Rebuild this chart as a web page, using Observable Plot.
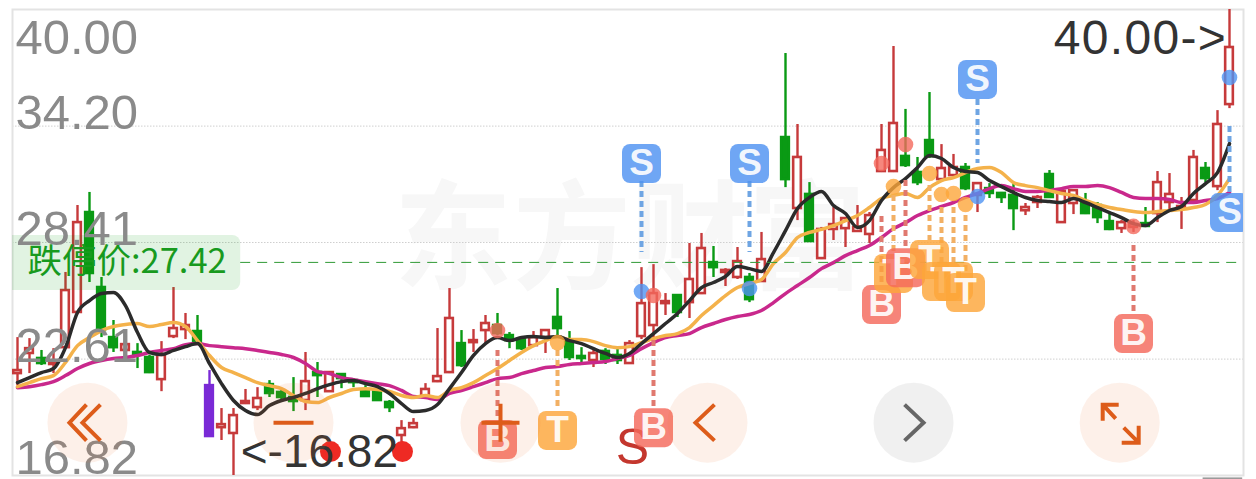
<!DOCTYPE html>
<html>
<head>
<meta charset="utf-8">
<script src="https://cdn.jsdelivr.net/npm/d3@7"></script>
<script src="https://cdn.jsdelivr.net/npm/@observablehq/plot@0.6"></script>
<style>
html,body{margin:0;padding:0;background:#fff;overflow:hidden}
svg{display:block}
.hi-label text{letter-spacing:1.3px}
</style>
</head>
<body>
<div id="chart"></div>
<script>
// Daily candles
const open = [21.89,22.89,22.64,22.34,23.18,24.93,29.90,26.17,23.68,23.04,
22.94,22.69,21.59,23.73,24.08,23.98,21.29,19.20,18.91,20.40,
20.20,21.34,20.95,20.70,20.55,21.94,20.99,21.84,21.54,21.05,
20.99,20.45,18.81,19.20,20.75,21.49,21.94,23.38,23.43,24.03,
24.28,23.78,23.58,23.28,23.68,24.68,23.43,22.74,22.54,22.99,
22.79,22.39,23.73,24.28,25.37,25.77,25.42,25.87,27.41,26.92,
26.67,26.67,26.47,33.08,33.63,30.10,30.80,27.61,29.06,29.10,
28.96,28.81,31.94,31.94,32.69,31.89,33.48,31.54,31.74,32.14,
30.75,31.09,30.85,30.75,29.99,30.40,31.79,29.40,30.35,30.40,
30.25,29.45,29.10,29.16,29.35,29.85,30.40,30.10,30.50,32.09,
31.19,35.27];
const close = [22.04,23.13,22.39,22.44,26.02,29.40,26.87,24.03,23.18,23.33,
22.84,21.94,22.79,24.13,24.28,23.43,18.76,19.35,19.80,20.50,
20.65,20.90,20.70,20.50,21.49,21.79,21.94,21.64,21.44,20.75,
20.55,20.20,19.15,19.40,21.10,21.74,24.63,22.29,23.53,24.38,
23.88,23.53,23.13,23.68,24.03,24.13,22.69,22.64,22.89,22.59,
22.54,23.38,25.37,25.87,25.47,24.93,26.57,28.11,27.16,27.02,
27.46,25.57,27.56,33.08,31.54,32.64,28.46,29.06,29.30,29.60,
29.16,29.75,32.99,34.33,32.24,31.39,32.69,32.09,32.14,31.09,
31.34,30.85,30.65,30.10,30.15,30.65,30.65,30.95,30.99,29.85,
29.65,29.06,29.40,29.30,29.21,31.39,30.80,30.20,32.64,31.59,
34.28,38.11];
const high = [23.68,23.63,23.04,23.13,26.92,30.25,30.90,26.67,24.53,23.78,
23.38,22.79,23.48,26.17,24.88,24.78,22.04,20.15,20.15,21.10,
21.19,21.54,21.05,21.69,22.94,22.44,21.99,21.89,21.64,21.29,
21.29,20.55,19.55,19.65,21.39,24.13,26.12,24.03,24.08,24.78,
24.88,23.93,23.63,23.98,24.03,26.12,23.98,23.18,23.13,23.13,
23.09,23.53,27.16,27.31,25.87,25.77,28.36,28.86,28.21,27.11,
28.16,26.87,28.91,33.08,37.81,34.28,31.39,29.16,30.15,29.65,
30.25,29.90,34.28,38.16,35.03,32.64,35.87,33.28,32.79,32.34,
31.34,31.34,30.90,31.34,30.35,30.75,31.99,30.99,31.04,30.85,
30.40,29.85,29.50,29.50,30.15,31.94,31.84,30.65,32.99,32.39,
34.97,40.00];
const low = [21.29,21.89,22.29,21.89,23.13,24.88,26.42,23.68,22.94,22.94,
22.14,21.89,20.99,23.63,23.58,23.38,18.76,18.56,16.82,20.35,
20.05,20.70,20.45,20.00,20.05,20.70,20.95,21.14,21.19,20.70,
20.50,19.95,18.41,19.15,20.70,21.44,21.89,22.19,22.94,23.38,
23.78,23.13,23.04,23.18,22.89,23.68,22.54,22.44,22.19,22.34,
22.34,22.34,23.58,23.53,24.78,24.68,24.63,25.82,26.67,26.22,
26.57,25.42,26.42,33.08,31.14,29.50,28.41,27.56,28.51,28.16,
28.91,28.36,31.89,31.89,32.14,31.24,32.59,31.49,31.69,30.99,
29.90,30.60,30.35,29.00,29.75,30.10,30.65,29.40,29.80,29.80,
29.35,29.00,28.86,28.91,29.16,29.40,29.99,29.06,30.40,31.39,
30.99,35.07];
const purpleDays = [16];
const yellowDays = [63];

// Moving averages
const maBlack = [21.44,21.69,21.94,22.14,23.18,24.93,25.52,25.87,25.92,25.27,
23.93,22.94,22.84,23.04,23.23,23.38,22.39,21.39,20.55,20.05,
19.85,20.30,20.55,20.70,20.90,21.14,21.34,21.49,21.54,21.39,
21.24,20.90,20.40,20.00,20.05,20.35,21.14,21.94,22.79,23.38,
23.68,23.53,23.68,23.73,23.68,23.73,23.53,23.38,23.13,22.89,
22.69,22.89,23.38,23.88,24.38,24.88,25.52,26.17,26.42,26.72,
27.21,27.11,26.97,27.91,29.00,30.10,30.65,30.95,30.25,29.85,
29.16,29.50,30.50,31.14,31.59,32.14,32.74,32.59,32.14,31.94,
31.89,31.49,31.19,30.90,30.65,30.50,30.45,30.40,30.60,30.40,
30.15,29.90,29.65,29.35,29.25,29.65,30.00,30.20,30.85,31.34,
31.89,33.33];
const maYellow = [21.24,21.44,21.64,21.79,22.44,23.28,23.68,24.03,24.23,24.33,
24.38,24.23,24.33,24.43,24.23,23.53,22.79,22.19,21.94,21.69,
21.44,21.29,21.14,20.80,20.50,20.45,20.70,20.90,21.10,21.14,
21.10,21.00,20.80,20.70,20.80,20.70,21.05,21.19,21.44,21.79,
22.14,22.54,22.94,23.28,23.53,23.73,23.58,23.58,23.48,23.28,
23.18,23.23,23.43,23.63,23.78,23.88,24.18,24.78,25.27,25.77,
26.17,26.37,26.57,27.36,27.91,28.66,28.91,29.06,29.25,29.50,
29.75,30.15,30.60,30.75,30.85,30.65,31.14,31.49,31.64,31.89,
32.09,32.14,31.89,31.39,31.24,31.14,30.99,30.85,30.75,30.50,
30.30,30.15,30.05,29.95,29.90,29.95,30.00,30.05,30.15,30.30,
30.75,31.59];
const maMagenta = [21.19,21.24,21.34,21.49,21.79,22.14,22.39,22.54,22.64,22.69,
22.79,22.94,23.04,23.13,23.33,23.38,23.28,23.23,23.18,23.13,
23.04,22.94,22.84,22.69,22.39,21.99,21.89,21.69,21.59,21.49,
21.39,21.29,21.05,20.75,20.70,20.60,20.90,21.05,21.24,21.44,
21.64,21.69,21.89,22.04,22.19,22.24,22.34,22.39,22.44,22.49,
22.64,22.79,23.13,23.43,23.68,23.78,23.88,24.18,24.38,24.58,
24.73,24.83,25.03,25.42,25.87,26.27,26.67,27.11,27.41,27.76,
28.01,28.26,28.66,29.10,29.40,29.75,30.00,30.20,30.40,30.65,
30.85,31.09,31.24,31.09,30.95,30.95,30.99,31.09,31.19,31.19,
31.24,31.14,30.90,30.65,30.60,30.60,30.55,30.40,30.40,30.50,
30.60,30.90];

// Buy / sell / T signals
const sigDay   = [40,45,52,53,61,72,73,74,76,77,78,79,80,93,101];
const sigKind  = ["B","T","S","B","S","B","T","B","T","T","T","T","S","B","S"];
const sigDot   = [24.03,23.43,25.97,25.77,26.12,32.34,31.19,33.28,31.84,30.80,30.85,30.30,30.70,29.21,36.62];
const sigBadge = [18.61,19.06,32.34,19.20,32.34,25.32,26.87,27.16,27.56,26.47,26.47,25.92,36.52,23.88,29.90];
const sigFrom  = [23.04,23.04,31.44,23.53,31.44,29.70,30.75,31.49,31.24,30.15,30.15,29.75,35.52,28.26,30.90];
const sigTo    = [19.70,20.05,27.91,20.20,27.91,26.27,27.86,28.11,28.51,27.41,27.41,26.92,32.34,24.88,34.33];

// Axis labels and price levels
const topTick = ["40.00"];
const midTicks = ["34.20","28.41","22.61"];
const bottomTick = ["16.82"];
const gridLevels = [34.20,28.41,22.61];
const limitPrice = 27.42;
const limitLabel = "跌停价:27.42";
const highLabel = "40.00->";
const lowLabel = "<-16.82";
const watermark = ["东","方","财","富"];
const watermarkDays = [36.3,46.2,56,65.8];

const RED = "#c63a3b", GREEN = "#0a9a14", PURPLE = "#7a2ad6", YEL = "#f4b24b";
const ORANGE = "#dd5c1a";
const kindColor = {B:"#f4695c", T:"#fda63b", S:"#4f93f2"};
const dashColor = {B:"#e0796f", T:"#f2b064", S:"#6fa5e3"};

const days = d3.range(open.length);
const candleColor = i => purpleDays.includes(i) ? PURPLE : yellowDays.includes(i) ? YEL : close[i] >= open[i] ? RED : GREEN;
const isHollow = i => close[i] >= open[i] && !yellowDays.includes(i);
const signals = sigDay.map((d,k)=>({day:d,kind:sigKind[k],dot:sigDot[k],badge:sigBadge[k],from:sigFrom[k],to:sigTo[k]}));

// Symbols for badges and UI buttons (shape only, placed through the scales)
const poly = (ctx, pts) => { pts.forEach((p,i)=> i ? ctx.lineTo(p[0],p[1]) : ctx.moveTo(p[0],p[1])); };
const roundSquare = {draw(ctx){
  const h=19.5,r=8;
  ctx.moveTo(-h+r,-h); ctx.lineTo(h-r,-h); ctx.arcTo(h,-h,h,-h+r,r); ctx.lineTo(h,h-r); ctx.arcTo(h,h,h-r,h,r);
  ctx.lineTo(-h+r,h); ctx.arcTo(-h,h,-h,h-r,r); ctx.lineTo(-h,-h+r); ctx.arcTo(-h,-h,-h+r,-h,r); ctx.closePath();
}};
const iconDouble = {draw(c){poly(c,[[-1,-18],[-18,0],[-1,18]]);poly(c,[[13,-18],[-5,0],[13,18]]);}};
const iconMinus = {draw(c){poly(c,[[-20,0],[20,0]]);}};
const iconPlus = {draw(c){poly(c,[[-19,0],[19,0]]);poly(c,[[0,-19],[0,19]]);}};
const iconLeft = {draw(c){poly(c,[[7,-18],[-12,0],[7,18]]);}};
const iconRight = {draw(c){poly(c,[[-9,-18],[10,0],[-9,18]]);}};
const iconExpand = {draw(c){
  poly(c,[[-17,-2],[-17,-18],[-1,-18]]);poly(c,[[-17,-18],[-4,-4]]);
  poly(c,[[2,20],[19,20],[19,3]]);poly(c,[[19,20],[4,5]]);
}};
const btnY = 19.45;
const buttons = [
 {day:5.83, icon:iconDouble}, {day:23, icon:iconMinus}, {day:40.25, icon:iconPlus},
 {day:57.5, icon:iconLeft}, {day:74.67, icon:iconRight, grey:true}, {day:91.85, icon:iconExpand}
];

const sans = '"Liberation Sans", Arial, sans-serif';
const cjk = '"Noto Sans CJK SC", sans-serif';

const chart = Plot.plot({
  width: 1256, height: 479,
  marginLeft: 12, marginRight: 13, marginTop: 9, marginBottom: 4,
  style: {background: "#ffffff", overflow:"hidden"},
  x: {axis: null, domain: [-5/12, 1226/12]},
  y: {axis: null, domain: [16.82, 40]},
  marks: [
    // watermark
    Plot.text(watermark, {x:(d,i)=>watermarkDays[i], y:()=>28.41, text:d=>d, fontFamily:cjk, fontWeight:700, fontSize:118, fill:"#f7f7f7"}),
    // grid
    Plot.ruleY(gridLevels, {stroke:"#cfcfcf", strokeWidth:1, strokeDasharray:"1.5,1.5"}),
    // frame
    Plot.frame({stroke:"#e3e3e3", strokeWidth:2}),
    // strip under the frame, bottom right
    Plot.rect(["strip"], {x1:98.8, x2:102.1, y1:16.62, y2:16.70, fill:"#9a9a9a", clip:false}),
    // candles
    Plot.ruleX(days, {x:i=>i, y1:i=>low[i], y2:i=>high[i], stroke:candleColor, strokeWidth:2.4}),
    Plot.rect(days, {x1:i=>i-0.32, x2:i=>i+0.32, y1:i=>open[i], y2:i=>close[i],
      fill:i=>isHollow(i)?"#ffffff":candleColor(i), stroke:candleColor, strokeWidth:2.6, clip:true}),
    // moving averages
    Plot.line(days, {x:i=>i, y:i=>maMagenta[i], stroke:"#c9288c", strokeWidth:3.5, curve:"monotone-x"}),
    Plot.line(days, {x:i=>i, y:i=>maYellow[i], stroke:YEL, strokeWidth:3.5, curve:"monotone-x"}),
    Plot.line(days, {x:i=>i, y:i=>maBlack[i], stroke:"#2b2b2b", strokeWidth:3.5, curve:"monotone-x"}),
    // limit-down line and label
    Plot.ruleY([limitPrice], {x1:18.6, x2:102.1, stroke:"#2f9a35", strokeWidth:1, strokeDasharray:"10,7"}),
    Plot.rect([limitLabel], {x1:-2, x2:18.6, y1:26.02, y2:28.76, fill:"#0a9a14", fillOpacity:0.12, rx:8, clip:true}),
    Plot.text([limitLabel], {x:()=>0.83, y:()=>limitPrice, text:d=>d, textAnchor:"start", fontFamily:cjk, fontSize:34.5, fill:"#189a1e"}),
    // signal dashes, dots
    Plot.ruleX(signals, {x:"day", y1:"from", y2:"to", stroke:d=>dashColor[d.kind], strokeWidth:4, strokeDasharray:"6,4"}),
    Plot.dot(signals, {x:"day", y:"dot", r:7.8, fill:d=>kindColor[d.kind], fillOpacity:0.8}),
    // extremes
    Plot.dot([26.08,32.08], {x:d=>d, y:()=>18.01, r:10.5, fill:"#ee2a24"}),
    Plot.text([lowLabel], {x:()=>18.6, y:()=>17.96, text:d=>d, textAnchor:"start", fontFamily:sans, fontSize:46, fill:"#333333"}),
    Plot.text([highLabel], {x:()=>100.8, y:()=>38.55, text:d=>d, textAnchor:"end", fontFamily:sans, fontSize:48, fill:"#333333", className:"hi-label"}),
    Plot.text(["S"], {x:()=>51.25, y:()=>18.2, text:d=>d, fontFamily:sans, fontSize:50, fill:"#c4372e"}),
    // badges, one after the other so that later ones cover earlier ones
    ...signals.flatMap(s => [
      Plot.dot([s], {x:"day", y:"badge", r:19, symbol:roundSquare, fill:kindColor[s.kind], fillOpacity:0.82, stroke:"none", clip:true}),
      Plot.text([s], {x:"day", y:"badge", text:"kind", fill:"#ffffff", fillOpacity:0.92, fontFamily:sans, fontWeight:700, fontSize:37, clip:true})
    ]),
    // axis labels
    Plot.text(topTick, {x:()=>-1/6, y:()=>40, dy:29, text:d=>d, textAnchor:"start", fontFamily:sans, fontSize:49, fill:"#8a8a8a"}),
    Plot.text(midTicks, {x:()=>-1/6, y:d=>+d, dy:-13, text:d=>d, textAnchor:"start", fontFamily:sans, fontSize:49, fill:"#8a8a8a"}),
    Plot.text(bottomTick, {x:()=>-1/6, y:d=>+d, dy:-17, text:d=>d, textAnchor:"start", fontFamily:sans, fontSize:49, fill:"#8a8a8a"}),
    // UI buttons
    Plot.dot(buttons, {x:"day", y:()=>btnY, r:40, fill:d=>d.grey?"#a8a8a8":"#f07a3a", fillOpacity:d=>d.grey?0.17:0.11}),
    ...buttons.map(b => Plot.dot([b], {x:"day", y:()=>btnY, r:20, symbol:b.icon, fill:"none",
        stroke:b.grey?"#666666":ORANGE, strokeWidth:4}))
  ]
});
document.getElementById("chart").appendChild(chart);
</script>
</body>
</html>
